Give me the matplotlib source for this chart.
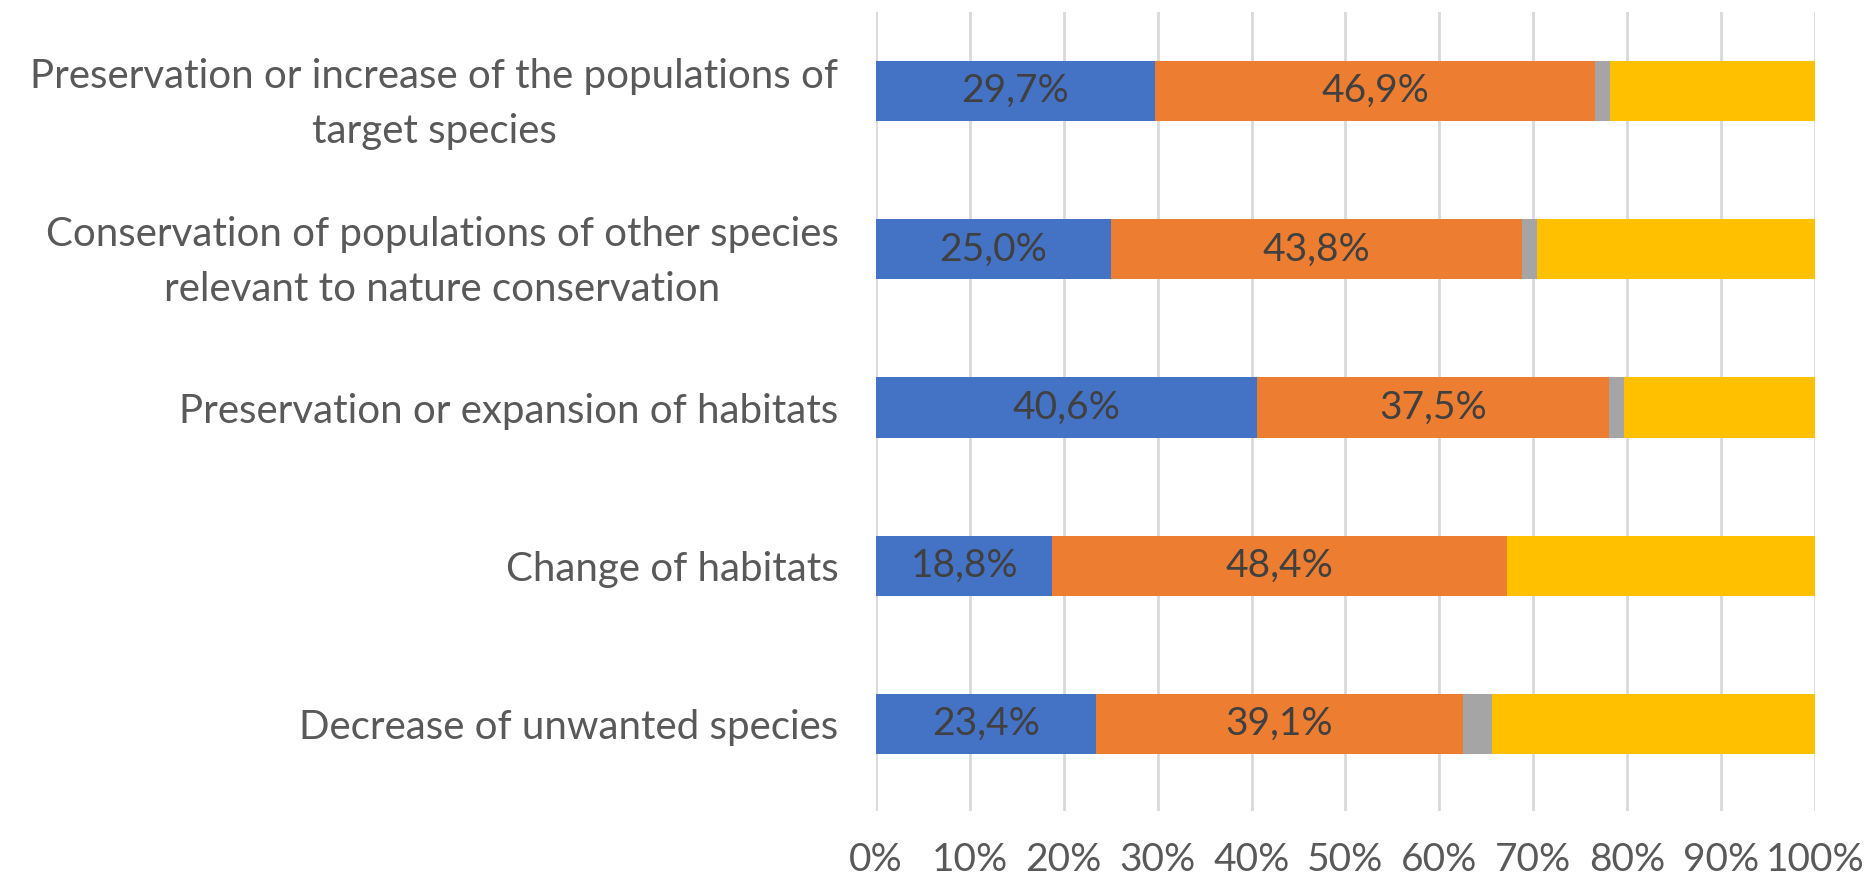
import numpy as np
import matplotlib.pyplot as plt

categories = ['Preservation or increase of the populations of\ntarget species',
              'Conservation of populations of other species\nrelevant to nature conservation',
              'Preservation or expansion of habitats',
              'Change of habitats',
              'Decrease of unwanted species']
blue = [29.7, 25.0, 40.6, 18.8, 23.4]
orange = [46.9, 43.8, 37.5, 48.4, 39.1]
grey = [1.6, 1.6, 1.6, 0.0, 3.1]
yellow = [21.9, 29.7, 20.3, 32.8, 34.4]

colors = ['#4472C4', '#ED7D31', '#A5A5A5', '#FFC000']

plt.rcParams['font.family'] = ['Lato', 'DejaVu Sans']

fig = plt.figure(figsize=(18.7, 8.8), dpi=100)
ax = fig.add_axes([0.4684, 0.0784, 0.5022, 0.908])

y = np.arange(len(categories))
left = np.zeros(len(categories))
for vals, c in zip([blue, orange, grey, yellow], colors):
    bars = ax.barh(y, vals, left=left, height=0.38, color=c, zorder=3)
    if c in colors[:2]:
        labels = [('%.1f%%' % v).replace('.', ',') for v in vals]
        ax.bar_label(bars, labels=labels, label_type='center', color='#404040', fontsize=28)
    left += np.array(vals)

ax.set_xlim(0, 100)
ax.set_ylim(4.55, -0.5)
ax.set_xticks(np.arange(0, 101, 10))
ax.set_xticklabels(['%d%%' % t for t in range(0, 101, 10)])
ax.set_yticks(y)
ax.set_yticklabels(categories, ha='right', multialignment='center', linespacing=1.6)
ax.tick_params(axis='y', length=0, pad=27, labelsize=29, labelcolor='#595959')
ax.tick_params(axis='x', length=0, pad=22, labelsize=28, labelcolor='#595959')
ax.grid(axis='x', color='#D9D9D9', linewidth=2, zorder=0)
for s in ax.spines.values():
    s.set_visible(False)

fig.savefig('out.png', dpi=100)
